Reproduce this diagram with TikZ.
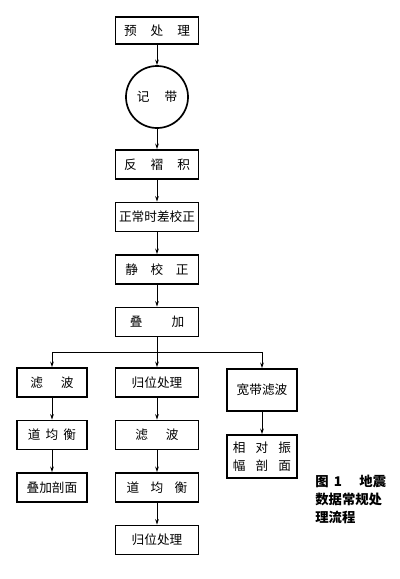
\documentclass[tikz,border=0pt]{standalone}
\usepackage{fontspec}
\setmainfont{Noto Sans CJK SC}
\usetikzlibrary{arrows.meta}

\begin{document}
\begin{tikzpicture}[x=0.025cm, y=-0.025cm, >={Stealth[length=4pt,width=2.6pt]},
  font=\fontsize{9pt}{11pt}\selectfont,
  box/.style={draw, line width=1.2pt, minimum height=0.725cm, inner sep=1pt, align=center},
  wide/.style={box, minimum width=2.075cm},
  narrow/.style={box, minimum width=1.75cm},
  link/.style={->, line width=0.7pt}]
  \useasboundingbox (0,0) rectangle (400,579);

  % main column
  \node[wide, minimum height=0.675cm] (pre) at (157,30.5) {预\hspace{1.1em}处\hspace{1.1em}理};
  \node[draw, circle, line width=1.2pt, minimum size=1.55cm] (tape) at (157,97) {记\hspace{1.2em}带};
  \node[wide] (decon)  at (157,164.5) {反\hspace{1.1em}褶\hspace{1.1em}积};
  \node[wide] (nmo)    at (157,217)   {正常时差校正};
  \node[wide] (static) at (157,269.5) {静\hspace{1em}校\hspace{1em}正};
  \node[wide] (stack)  at (157,322)   {叠\hspace{2.3em}加};
  \coordinate (fork) at (157,352);

  % three branches
  \node[narrow] (filtA) at (52,382.5) {滤\hspace{1.4em}波};
  \node[narrow] (equA)  at (52,435)   {道\hspace{0.4em}均\hspace{0.4em}衡};
  \node[narrow] (secA)  at (52,487.5) {叠加剖面};
  \node[wide] (migB)  at (157,382.5) {归位处理};
  \node[wide] (filtB) at (157,435)   {滤\hspace{1.4em}波};
  \node[wide] (equB)  at (157,487.5) {道\hspace{0.9em}均\hspace{0.9em}衡};
  \node[wide] (migB2) at (157,540)   {归位处理};
  \node[narrow, minimum height=1.05cm] (bandC) at (262,390) {宽带滤波};
  \node[narrow, minimum height=1.075cm] (ampC) at (262,456.5)
    {相\hspace{0.8em}对\hspace{0.8em}振\\[2pt]幅\hspace{0.8em}剖\hspace{0.8em}面};

  \node[anchor=north west, align=left, inner sep=0pt,
        font=\fontsize{9.5pt}{12.8pt}\selectfont\bfseries] (cap) at (315,475)
    {图\hspace{0.4em}1\hspace{1.3em}地震\\数据常规处\\理流程};

  \foreach \a/\b in {pre/tape, tape/decon, decon/nmo, nmo/static,
                     filtA/equA, equA/secA, migB/filtB, filtB/equB,
                     equB/migB2, bandC/ampC}
    \draw[link] (\a) -- (\b);
  \draw[link] (static) -- (stack);
  \draw[line width=0.7pt] (stack) -- (fork);
  \draw[line width=0.7pt] (fork -| filtA) -- (fork -| bandC);
  \draw[link] (fork -| filtA) -- (filtA);
  \draw[link] (fork) -- (migB);
  \draw[link] (fork -| bandC) -- (bandC);
\end{tikzpicture}
\end{document}
